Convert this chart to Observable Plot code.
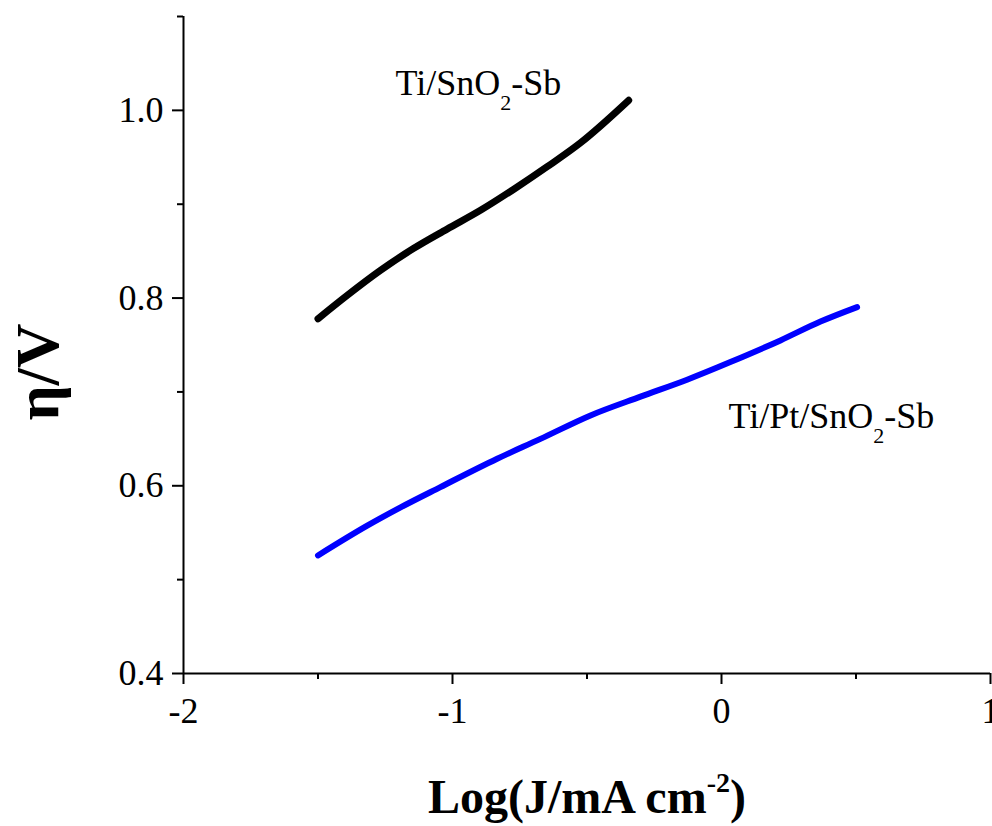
<!DOCTYPE html>
<html>
<head>
<meta charset="utf-8">
<script src="https://cdn.jsdelivr.net/npm/d3@7"></script>
<script src="https://cdn.jsdelivr.net/npm/@observablehq/plot@0.6"></script>
<style>
  body { margin: 0; background: #fff; }
  #chart svg { display: block; }
</style>
</head>
<body>
<div id="chart"></div>
<script>
// ---- data ----
const seriesNames = ["Ti/SnO2-Sb", "Ti/Pt/SnO2-Sb"];
const seriesColors = ["#000000", "#0000ff"];

const blackX = [-1.50, -1.391, -1.268, -1.144, -1.020, -0.896, -0.772, -0.648, -0.524, -0.345];
const blackY = [0.778, 0.803, 0.8295, 0.8530, 0.8735, 0.8935, 0.9160, 0.9400, 0.9655, 1.0107];

const blueX = [-1.50, -1.317, -1.193, -1.045, -0.834, -0.673, -0.487, -0.301, -0.128, 0.033, 0.219, 0.368, 0.504];
const blueY = [0.5258, 0.5575, 0.5770, 0.5986, 0.6288, 0.6500, 0.6750, 0.6950, 0.7130, 0.7318, 0.7549, 0.7750, 0.7904];

const xTicks = [-2, -1, 0, 1];
const xMinorTicks = [-1.5, -0.5, 0.5];
const yTicks = [0.4, 0.6, 0.8, 1.0];
const yMinorTicks = [0.5, 0.7, 0.9, 1.1];

const labelX = [-1.212, 0.026];
const labelY = [1.016, 0.662];

const xTitle = ["Log(J/mA cm", "-2", ")"];
const yTitle = "η/V";

// ---- build tables ----
const blackRows = blackX.map((x, i) => ({series: seriesNames[0], x, y: blackY[i]}));
const blueRows = blueX.map((x, i) => ({series: seriesNames[1], x, y: blueY[i]}));

const font = '"Liberation Serif", "Times New Roman", serif';

const plot = Plot.plot({
  width: 992,
  height: 826,
  marginLeft: 183,
  marginRight: 2,
  marginTop: 16,
  marginBottom: 153,
  style: {fontFamily: font, fontSize: "36px", background: "#fff", color: "#000", overflow: "visible"},
  x: {domain: [-2, 1]},
  y: {domain: [0.4, 1.1]},
  color: {domain: seriesNames, range: seriesColors},
  marks: [
    Plot.axisX(xTicks, {anchor: "bottom", tickSize: 11, tickPadding: 13, strokeWidth: 2, tickFormat: d => String(d), label: null, fontSize: 36}),
    Plot.axisX(xMinorTicks, {anchor: "bottom", tickSize: 6, strokeWidth: 2, tickFormat: () => "", label: null}),
    Plot.axisY(yTicks, {anchor: "left", tickSize: 11, tickPadding: 9, strokeWidth: 2, tickFormat: d => d.toFixed(1), label: null, fontSize: 36}),
    Plot.axisY(yMinorTicks, {anchor: "left", tickSize: 6, strokeWidth: 2, tickFormat: () => "", label: null}),
    Plot.ruleX([-2], {y1: 0.4, y2: 1.1, strokeWidth: 2}),
    Plot.ruleY([0.4], {x1: -2, x2: 1, strokeWidth: 2}),
    Plot.line(blackRows, {x: "x", y: "y", stroke: "series", strokeWidth: 7, curve: "monotone-x", strokeLinecap: "round"}),
    Plot.line(blueRows, {x: "x", y: "y", stroke: "series", strokeWidth: 6, curve: "monotone-x", strokeLinecap: "round"}),
    Plot.text(seriesNames, {x: (d, i) => labelX[i], y: (d, i) => labelY[i], text: d => d, textAnchor: "start", lineAnchor: "bottom", fontSize: 36, fill: "#000"})
  ]
});

document.getElementById("chart").appendChild(plot);

// subscripts for the series labels
const svg = d3.select(plot);
svg.selectAll("text").each(function () {
  const t = d3.select(this);
  const s = t.text();
  if (seriesNames.includes(s) && this.children.length === 0) {
    const [pre, post] = s.split("O2");
    t.text(null);
    t.append("tspan").text(pre + "O");
    t.append("tspan").attr("dy", 15).attr("font-size", 22).text("2");
    t.append("tspan").attr("dy", -15).text(post);
  }
});

// axis titles
const xt = svg.append("text")
  .attr("x", 587).attr("y", 813)
  .attr("text-anchor", "middle")
  .attr("font-family", font).attr("font-weight", "bold").attr("font-size", 48).attr("fill", "#000");
xt.append("tspan").text(xTitle[0]);
xt.append("tspan").attr("dy", -21).attr("font-size", 28).text(xTitle[1]);
xt.append("tspan").attr("dy", 21).text(xTitle[2]);

svg.append("text")
  .attr("transform", "translate(58,372) rotate(-90)")
  .attr("text-anchor", "middle")
  .attr("font-family", font).attr("font-weight", "bold").attr("font-size", 62).attr("fill", "#000")
  .text(yTitle);
</script>
</body>
</html>
